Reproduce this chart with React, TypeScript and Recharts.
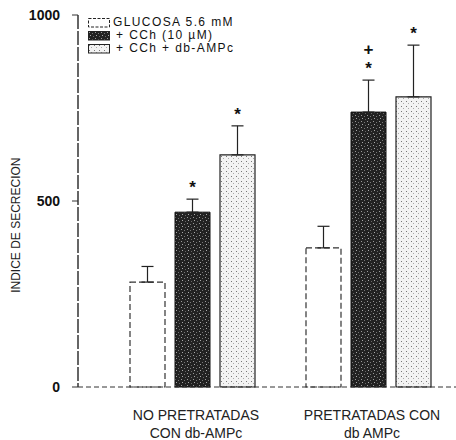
import React from "react";
import { BarChart, Bar, XAxis, YAxis, ErrorBar, LabelList, Legend } from "recharts";

const categories = ["NO PRETRATADAS|CON db-AMPc", "PRETRATADAS CON|db AMPc"];
const glucosa = [282, 374];
const cch = [470, 739];
const cchAmp = [624, 780];
const errGlucosa = [42, 58];
const errCch = [35, 86];
const errCchAmp = [78, 139];
const marksGlucosa = ["", ""];
const marksCch = ["*", "+*"];
const marksCchAmp = ["*", "*"];
const yTicks = [0, 500, 1000];
const legendLabels = ["GLUCOSA 5.6 mM", "+ CCh (10 \u00b5M)", "+ CCh + db-AMPc"];
const yLabel = "INDICE DE SECRECION";

const data = categories.map((c, i) => ({
  cat: c,
  g: glucosa[i],
  c: cch[i],
  a: cchAmp[i],
  eg: [0, errGlucosa[i]],
  ec: [0, errCch[i]],
  ea: [0, errCchAmp[i]],
}));

const FONT = "'Liberation Sans', Arial, sans-serif";

const makeMarkLabel = (marks: string[], errs: number[]) => (props: any) => {
  const { x, y, width, height, value, index } = props;
  const m = marks[index];
  if (!m || !value) return null;
  const errPx = (errs[index] * height) / value;
  const cx = x + width / 2;
  const top = y - errPx;
  const items = m.split("").reverse();
  return (
    <g>
      {items.map((ch, k) => {
        const cy = top - 15 - k * 16;
        if (ch === "*") {
          return (
            <text key={k} x={cx} y={cy + 9} textAnchor="middle" fontSize={17} fontWeight="bold" fontFamily={FONT} fill="#111">
              *
            </text>
          );
        }
        return (
          <text key={k} x={cx} y={cy + 6} textAnchor="middle" fontSize={17} fontWeight="bold" fontFamily={FONT} fill="#111">
            +
          </text>
        );
      })}
    </g>
  );
};

const XTick = (props: any) => {
  const { x, y, payload } = props;
  const lines = String(payload.value).split("|");
  return (
    <g>
      {lines.map((l, i) => (
        <text key={i} x={x + 4} y={y + 25 + i * 18} textAnchor="middle" fontSize={14} fontFamily={FONT} fill="#222">
          {l}
        </text>
      ))}
    </g>
  );
};

const YTick = (props: any) => {
  const { x, y, payload } = props;
  return (
    <text x={x - 10} y={y + 5} textAnchor="end" fontSize={14} fontWeight="bold" fontFamily={FONT} fill="#111">
      {payload.value}
    </text>
  );
};

const YLabel = (props: any) => {
  const vb = props.viewBox || {};
  const x = vb.x + vb.width - 58;
  const y = vb.y + vb.height * 0.565;
  return (
    <text
      x={x}
      y={y}
      transform={`rotate(-90, ${x}, ${y})`}
      textAnchor="middle"
      fontSize={12}
      fontFamily={FONT}
      fill="#222"
    >
      {yLabel}
    </text>
  );
};

const swatchFills = ["#ffffff", "url(#darkPat)", "url(#lightPat)"];

const LegendContent = () => (
  <div style={{ fontFamily: FONT, fontSize: 12, letterSpacing: 1.4, color: "#111", lineHeight: "13px" }}>
    {legendLabels.map((l, i) => (
      <div key={i} style={{ display: "flex", alignItems: "center", height: 13 }}>
        <svg width={24} height={10} style={{ marginRight: i === 0 ? 1 : 4 }}>
          <rect
            x={0.5}
            y={0.5}
            width={21}
            height={8.5}
            fill={swatchFills[i]}
            stroke="#222"
            strokeDasharray={i === 0 ? "3 1.5" : undefined}
          />
        </svg>
        <span>{l}</span>
      </div>
    ))}
  </div>
);

export default function App() {
  return (
    <div style={{ position: "absolute", left: 0, top: 0, width: 456, height: 440, background: "#fff", overflow: "hidden" }}>
      <BarChart
        width={456}
        height={440}
        data={data}
        margin={{ top: 15, right: 0, bottom: 8, left: 8 }}
        barSize={35}
        barGap={10}
      >
        <defs>
          <pattern id="darkPat" width="6" height="6" patternUnits="userSpaceOnUse">
            <rect width="6" height="6" fill="#222" />
            <rect x="1" y="1" width="1" height="1" fill="#999" />
            <rect x="4" y="2" width="1" height="1" fill="#777" />
            <rect x="2" y="4" width="1" height="1" fill="#aaa" />
            <rect x="5" y="5" width="1" height="1" fill="#666" />
          </pattern>
          <pattern id="lightPat" width="5" height="5" patternUnits="userSpaceOnUse">
            <rect width="5" height="5" fill="#f3f3f3" />
            <rect x="1" y="1" width="1" height="1" fill="#777" />
            <rect x="3" y="3" width="1" height="1" fill="#aaa" />
          </pattern>
        </defs>
        <XAxis
          dataKey="cat"
          tick={<XTick />}
          tickLine={false}
          axisLine={{ stroke: "#333", strokeDasharray: "5 3", strokeWidth: 1 }}
          padding={{ left: 26, right: 0 }}
          height={45}
          interval={0}
        />
        <YAxis
          domain={[0, 1000]}
          ticks={yTicks}
          width={70}
          tick={<YTick />}
          tickLine={{ stroke: "#333" }}
          tickSize={6}
          axisLine={{ stroke: "#333", strokeWidth: 1.5, strokeDasharray: "14 2" }}
          label={<YLabel />}
        />
        <Legend
          layout="vertical"
          align="center"
          verticalAlign="middle"
          content={<LegendContent />}
          wrapperStyle={{ top: 16, left: 88, width: 240, height: 42 }}
        />
        <Bar dataKey="g" fill="#ffffff" stroke="#333" strokeDasharray="6 3" strokeWidth={1.2} isAnimationActive={false}>
          <ErrorBar dataKey="eg" width={6} stroke="#222" strokeWidth={1.2} />
          <LabelList dataKey="g" content={makeMarkLabel(marksGlucosa, errGlucosa)} />
        </Bar>
        <Bar dataKey="c" fill="url(#darkPat)" stroke="#111" strokeWidth={1} isAnimationActive={false}>
          <ErrorBar dataKey="ec" width={6} stroke="#222" strokeWidth={1.2} />
          <LabelList dataKey="c" content={makeMarkLabel(marksCch, errCch)} />
        </Bar>
        <Bar dataKey="a" fill="url(#lightPat)" stroke="#222" strokeWidth={1.2} isAnimationActive={false}>
          <ErrorBar dataKey="ea" width={6} stroke="#222" strokeWidth={1.2} />
          <LabelList dataKey="a" content={makeMarkLabel(marksCchAmp, errCchAmp)} />
        </Bar>
      </BarChart>
    </div>
  );
}
